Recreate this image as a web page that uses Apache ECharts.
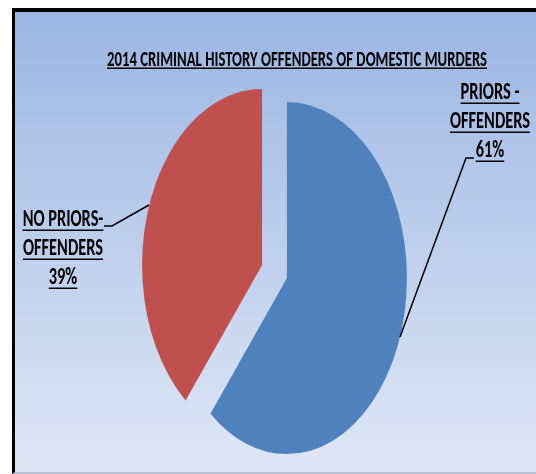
<!DOCTYPE html>
<html>
<head>
<meta charset="utf-8">
<script src="https://cdn.jsdelivr.net/npm/echarts@6/dist/echarts.min.js"></script>
<style>
  html, body { margin:0; padding:0; background:#fff; }
  #frame { position:absolute; left:12px; top:8px; width:524px; height:466px; box-sizing:border-box;
           border-top:4px solid #000; border-left:3px solid #000; border-bottom:2px solid #b7c1d2;
           background: linear-gradient(#9bb6e3, #dfe7f5); }
  #chart { position:absolute; left:0; top:0; width:536px; height:474px; }
</style>
</head>
<body>
<div id="frame"></div>
<div id="chart"></div>
<script>
// ---- data ----
const title = '2014 CRIMINAL HISTORY OFFENDERS OF DOMESTIC MURDERS';
const categories = ['PRIORS - OFFENDERS', 'NO PRIORS- OFFENDERS'];
const categoryLines = [['PRIORS -', 'OFFENDERS'], ['NO PRIORS-', 'OFFENDERS']];
const values = [61, 39];
const colors = ['#4f81bd', '#c0504d'];

// ---- layout (style only) ----
const PIE = { cx: 274.5, cy: 271.5, r: 120, k: 1.467, explode: 13.2 };
const FONT_FAMILY = 'Carlito, "Liberation Sans Narrow", "Liberation Sans", sans-serif';
const FONT_SIZE = 15;
const STRETCH_Y = 1.45;
const labelLayout = [
  { cx: 490, top: 93, step: 29, line: [[400, 337], [466, 158], [474, 158]] },
  { cx: 63, top: 220, step: 29, line: [[149, 205], [112, 226], [104, 226]] }
];

const total = values.reduce((a, b) => a + b, 0);
const cum = [];
values.reduce((acc, v, i) => { cum[i] = acc; return acc + v; }, 0);

const mctx = document.createElement('canvas').getContext('2d');
mctx.font = 'bold ' + FONT_SIZE + 'px ' + FONT_FAMILY;
function tw(t) { return mctx.measureText(t).width; }
const TITLE_SX = 380 / tw(title);
const LABEL_SX = 80 / tw('OFFENDERS');
const LABEL_SY = STRETCH_Y * LABEL_SX / TITLE_SX;

const graphics = [];
function addText(t, cx, cyMid, underlineY, sx, sy) {
  graphics.push({
    type: 'text', x: cx, y: cyMid, scaleX: sx, scaleY: sy, z: 10,
    style: { text: t, x: 0, y: 0, fill: '#000', fontSize: FONT_SIZE, fontWeight: 'bold',
             fontFamily: FONT_FAMILY, align: 'center', textAlign: 'center',
             verticalAlign: 'middle', textVerticalAlign: 'middle' }
  });
  const w = tw(t) * sx;
  graphics.push({
    type: 'rect', z: 10, shape: { x: cx - w / 2, y: underlineY, width: w, height: 1.5 },
    style: { fill: '#000' }
  });
}
addText(title, 297, 60.5, 67.5, TITLE_SX, STRETCH_Y);

labelLayout.forEach((L, i) => {
  const lines = categoryLines[i].concat([values[i] + '%']);
  lines.forEach((t, j) => {
    const mid = L.top + j * L.step;
    addText(t, L.cx, mid, mid + 9.5, LABEL_SX, LABEL_SY);
  });
  graphics.push({
    type: 'polyline', z: 10, shape: { points: L.line },
    style: { stroke: '#000', lineWidth: 1.5, fill: null }
  });
});

const chart = echarts.init(document.getElementById('chart'), null, { renderer: 'canvas' });
chart.setOption({
  backgroundColor: 'transparent',
  animation: false,
  graphic: { elements: graphics },
  series: [{
    type: 'custom',
    coordinateSystem: 'none',
    data: values.map((v, i) => ({ name: categories[i], value: [v] })),
    renderItem: function (params, api) {
      const i = params.dataIndex;
      const v = api.value(0);
      const start = -Math.PI / 2 + 2 * Math.PI * cum[i] / total;
      const end = start + 2 * Math.PI * v / total;
      const mid = (start + end) / 2;
      return {
        type: 'sector',
        x: PIE.cx + PIE.explode * Math.cos(mid),
        y: PIE.cy + PIE.explode * Math.sin(mid) * PIE.k,
        scaleY: PIE.k,
        shape: { cx: 0, cy: 0, r0: 0, r: PIE.r, startAngle: start, endAngle: end, clockwise: true },
        style: { fill: colors[i] }
      };
    }
  }]
});
</script>
</body>
</html>
